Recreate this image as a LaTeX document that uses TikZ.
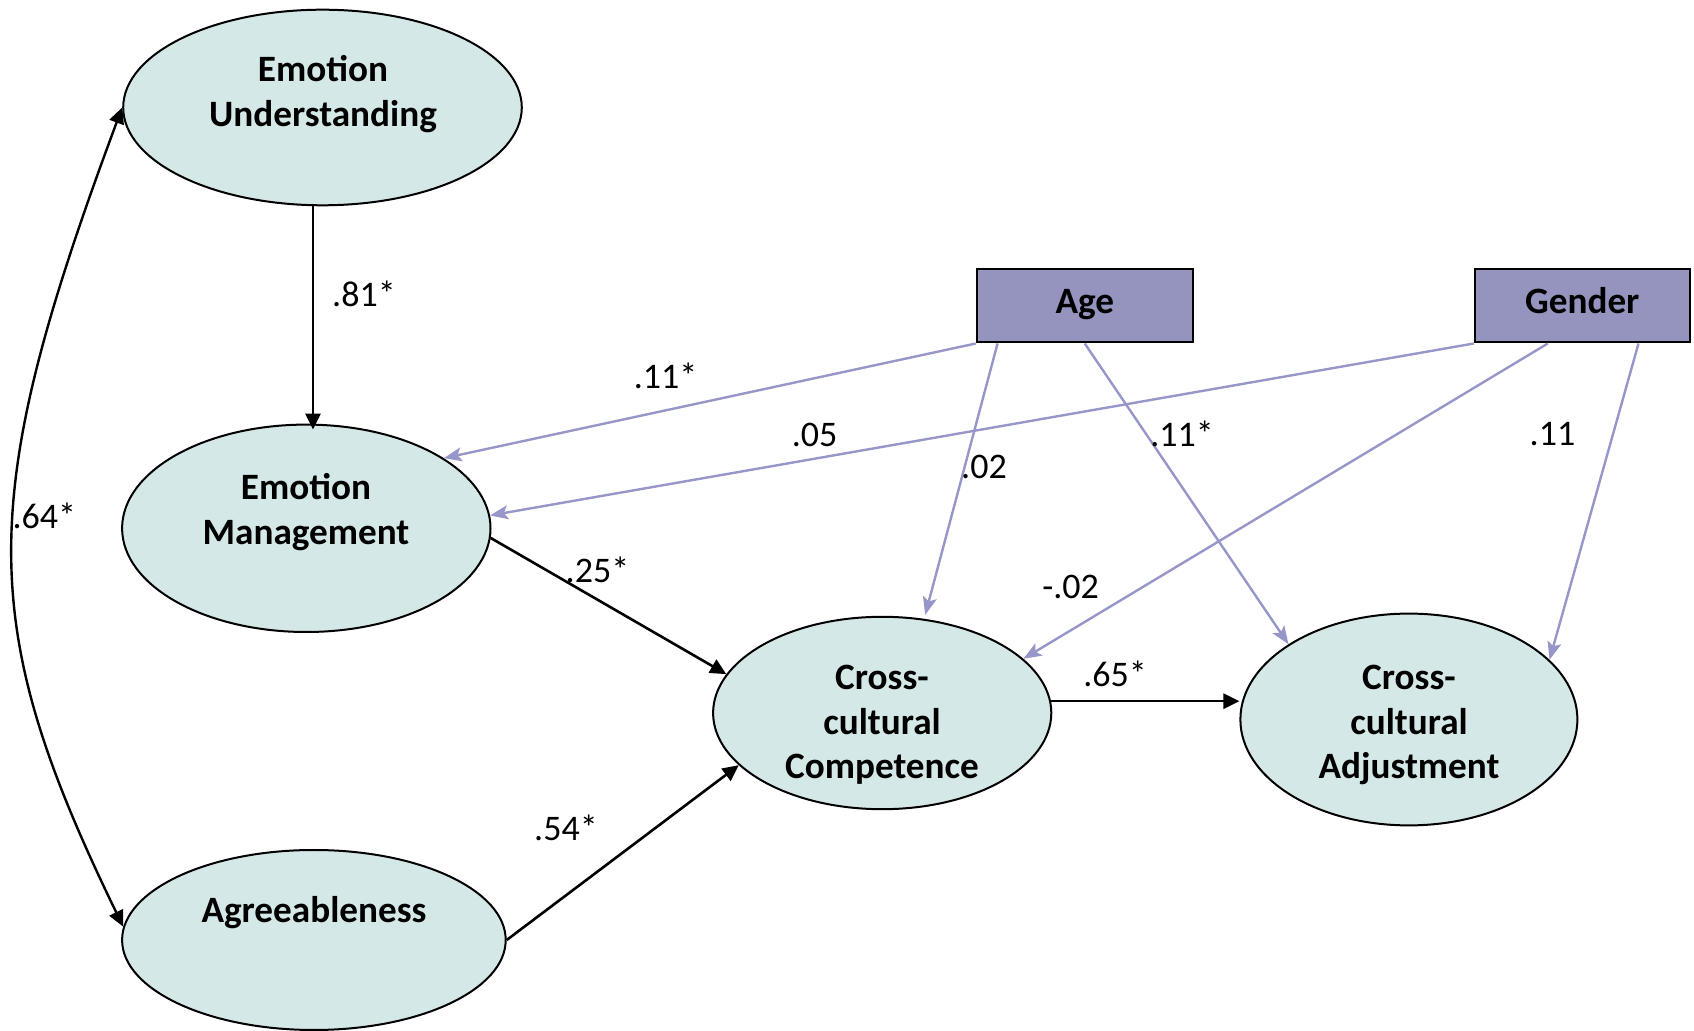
\documentclass[tikz,border=0pt]{standalone}
\usepackage{fontspec}
\setmainfont{Carlito}
\usetikzlibrary{arrows.meta,shapes.geometric,calc}
\definecolor{latentfill}{RGB}{213,232,232}
\definecolor{boxfill}{RGB}{148,148,190}
\definecolor{ctrlline}{RGB}{150,150,200}
\begin{document}
\begin{tikzpicture}[x=0.5pt,y=-0.5pt,
  latent/.style={ellipse,draw=black,line width=1pt,fill=latentfill,inner sep=0pt},
  observed/.style={rectangle,draw=black,line width=1pt,fill=boxfill,inner sep=0pt,
    minimum height=36.75pt,text height=12pt,text depth=4pt,
    font=\fontsize{18.6}{22}\selectfont\bfseries},
  vname/.style={align=center,font=\fontsize{18.6}{22.2}\selectfont\bfseries,inner sep=0pt},
  coef/.style={font=\fontsize{18}{21}\selectfont,inner sep=0pt},
  tipblack/.tip={Triangle[length=8pt,width=7.5pt]},
  causal/.style={draw=black,line width=1.3pt,-tipblack},
  ctrl/.style={draw=ctrlline,line width=1.2pt,-{Stealth[length=9pt,width=7pt,inset=2pt]}},
]
\useasboundingbox (0,0) rectangle (1694,1031);

% latent variables
\node[latent,minimum width=199.3pt,minimum height=97.8pt] (EU) at (322.5,107.5) {};
\node[latent,minimum width=184.2pt,minimum height=103.7pt] (EM) at (306.3,528.3) {};
\node[latent,minimum width=191.8pt,minimum height=90pt] (AG) at (313.9,940) {};
\node[latent,minimum width=169.1pt,minimum height=96.2pt] (CC) at (882.2,713) {};
\node[latent,minimum width=168.5pt,minimum height=105.9pt] (CA) at (1408.9,719.5) {};

\node[vname] (EUt) at (323,94) {Emotion\\Understanding};
\node[vname] (EMt) at (306,512) {Emotion\\Management};
\node[vname] (AGt) at (314,913) {Agreeableness};
\node[vname] (CCt) at (882,725) {Cross-\\cultural\\Competence};
\node[vname] (CAt) at (1409,725) {Cross-\\cultural\\Adjustment};

% observed covariates
\node[observed,minimum width=108pt] (Age) at (1084.75,305.75) {Age};
\node[observed,minimum width=107.5pt] (Gen) at (1582.3,305.75) {Gender};

% structural paths
\coordinate (drop) at (313,0);
\draw[causal,shorten >=-3pt] (EU.south -| drop) -- (EM.north -| drop);
\draw[causal] (EM.357) -- (CC.166);
\draw[causal] (AG.east) -- (CC.200);
\draw[causal] (CC.4) -- (CC.4 -| CA.west);
\draw[line width=1.2pt,tipblack-tipblack]
  (EU.west) .. controls (-24,500) and (-24,624) .. (AG.176);

% control paths
\draw[ctrl] (Age.south west) -- (EM.27);
\draw[ctrl,shorten >=2pt] ($(Age.south west)!0.1!(Age.south east)$) -- (CC.66);
\draw[ctrl] (Age.south) -- (CA.148);
\draw[ctrl] (Gen.south west) -- (EM.4);
\draw[ctrl] ($(Gen.south west)!0.341!(Gen.south east)$) -- (CC.21);
\draw[ctrl] ($(Gen.south west)!0.759!(Gen.south east)$) -- (CA.23);

% coefficients
\node[coef] (c81) at (364,294) {.81*};
\node[coef] (c64) at (44.3,515.4) {.64*};
\node[coef] (c11a) at (665.5,376) {.11*};
\node[coef] (c05) at (814.6,435.4) {.05};
\node[coef] (c02) at (984,466.7) {.02};
\node[coef] (c11b) at (1182,434.3) {.11*};
\node[coef] (c11c) at (1552.5,434.3) {.11};
\node[coef] (c25) at (597.5,569.4) {.25*};
\node[coef] (cm02) at (1070.7,586.7) {-.02};
\node[coef] (c65) at (1115,674) {.65*};
\node[coef] (c54) at (566,827.6) {.54*};
\end{tikzpicture}
\end{document}
